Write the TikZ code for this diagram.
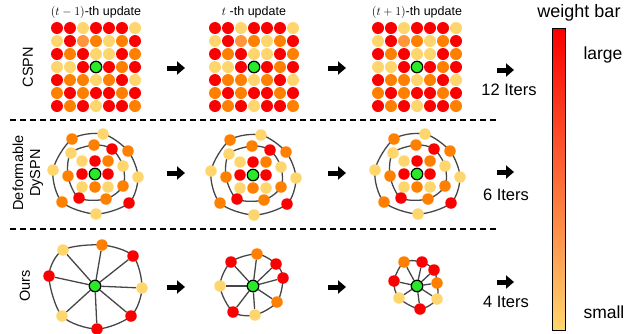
\documentclass[tikz,border=0pt]{standalone}
\usepackage{fontspec}
\setmainfont{Liberation Sans}
\usepackage{tikz}
\usetikzlibrary{arrows.meta,positioning,backgrounds}
\usepackage{xcolor}
\definecolor{wred}{RGB}{250,0,0}
\definecolor{worange}{RGB}{255,128,0}
\definecolor{wlight}{RGB}{255,150,60}
\definecolor{wyellow}{RGB}{255,214,110}
\definecolor{wgreen}{RGB}{40,235,40}
\definecolor{ringgray}{RGB}{70,70,70}
\tikzstyle{dot} = [circle, inner sep=0pt, minimum size=12pt]
\tikzstyle{ringdot} = [circle, inner sep=0pt, minimum size=11.5pt]
\tikzstyle{seed} = [circle, draw=black, line width=1.2pt, fill=wgreen, inner sep=0pt, minimum size=11.5pt]
\tikzstyle{ring} = [ringgray, line width=1.3pt]
\tikzstyle{bigarrow} = [line width=5pt, -{Triangle[length=8pt,width=13pt]}]
\tikzstyle{sep} = [line width=1.2pt, dash pattern=on 6pt off 4pt]

% 7x7 grid of weights around the seed pixel
\newcommand{\cspngrid}[3]{%
  \foreach \cl [count=\i from 0] in {wred,wred,wyellow,wred,wred,wred,wyellow,
      wyellow,wred,wlight,worange,wyellow,worange,wred,
      wred,worange,wred,wyellow,wyellow,wred,worange,
      wyellow,wyellow,wred,wgreen,wred,worange,wred,
      wred,worange,worange,wyellow,worange,wred,wyellow,
      worange,wred,worange,wred,wred,worange,wred,
      wred,worange,wred,wyellow,wred,wred,worange}{
    \pgfmathtruncatemacro{\cc}{mod(\i,7)}
    \pgfmathtruncatemacro{\rr}{div(\i,7)}
    \ifnum\i=24
      \node[seed] (#1-seed) at (#2,#3) {};
    \else
      \node[dot, fill=\cl] (#1-\rr-\cc) at ({#2+13*(\cc-3)},{#3+13*(\rr-3)}) {};
    \fi
  }
}

% deformable neighbourhood: inner square + two rings
\newcommand{\dyspn}[3]{%
  \foreach \dx/\dy/\cl [count=\k] in {-13/-13/wyellow,0/-13/wred,13/-13/worange,
      -13/0/wred,13/0/wred,-13/13/wyellow,0/13/worange,13/13/wyellow}
    \node[ringdot, fill=\cl] (#1-i\k) at ({#2+\dx},{#3+\dy}) {};
  \foreach \dx/\dy/\cl [count=\k] in {-1/-29/worange,17/-25/wred,28/-8/wyellow,
      28/12/worange,11/25/worange,-16/24/wred,-27/2/worange,-24/-21/wyellow}
    \node[ringdot, fill=\cl] (#1-m\k) at ({#2+\dx},{#3+\dy}) {};
  \foreach \dx/\dy/\cl [count=\k] in {-23/-35/worange,8/-40/wyellow,33/-23/worange,
      43/3/wyellow,34/29/wred,1/40/wyellow,-33/28/worange,-42/-4/wyellow}
    \node[ringdot, fill=\cl] (#1-o\k) at ({#2+\dx},{#3+\dy}) {};
  \node[seed] (#1-seed) at (#2,#3) {};
  \begin{scope}[on background layer]
    \draw[ring] plot[smooth cycle] coordinates {(#1-m1) (#1-m2) (#1-m3) (#1-m4)
      (#1-m5) (#1-m6) (#1-m7) (#1-m8)};
    \draw[ring] plot[smooth cycle] coordinates {(#1-o1) (#1-o2) (#1-o3) (#1-o4)
      (#1-o5) (#1-o6) (#1-o7) (#1-o8)};
  \end{scope}
}

% seed with 8 learned neighbours
\newcommand{\oursgraph}[4]{%
  \foreach \dx/\dy/\cl [count=\k] in {#4}
    \node[ringdot, fill=\cl] (#1-\k) at ({#2+\dx},{#3+\dy}) {};
  \node[seed] (#1-seed) at (#2,#3) {};
  \begin{scope}[on background layer]
    \foreach \k in {1,...,8}
      \draw[ring] (#1-seed) -- (#1-\k);
    \draw[ring] plot[smooth cycle] coordinates {(#1-1) (#1-2) (#1-3) (#1-4)
      (#1-5) (#1-6) (#1-7) (#1-8)};
  \end{scope}
}

\begin{document}
\begin{tikzpicture}[x=1pt, y=-1pt]
\useasboundingbox (0,0) rectangle (632,333);

% titles
\node[font=\fontsize{12.5}{14}\selectfont] (tprev) at (96,12) {$(t-1)$-th update};
\node[font=\fontsize{12.5}{14}\selectfont] (tcur) at (254,12) {$t$ -th update};
\node[font=\fontsize{12.5}{14}\selectfont] (tnext) at (417,12) {$(t+1)$-th update};

% row labels
\node[rotate=90, font=\fontsize{14.5}{17}\selectfont] (lcspn) at (28,67) {CSPN};
\node[rotate=90, align=center, font=\fontsize{14.5}{17}\selectfont] (ldys) at (28,173) {Deformable\\DySPN};
\node[rotate=90, font=\fontsize{14.5}{17}\selectfont] (lours) at (25,286) {Ours};

% CSPN
\cspngrid{ca}{96}{67}
\cspngrid{cb}{254}{67}
\cspngrid{cc}{417}{67}

% Deformable DySPN
\dyspn{da}{95}{174}
\dyspn{db}{253}{175}
\dyspn{dc}{417}{174}

% Ours
\oursgraph{oa}{95}{286}{-32/-36/wyellow,7/-41/worange,38/-30/wred,47/2/wyellow,
  36/30/wred,2/43/wred,-33/30/wyellow,-46/-10/wred}
\oursgraph{ob}{253}{286}{-22/-24/wred,4/-32/worange,23/-22/wred,30/-8/wred,
  24/16/worange,2/29/wyellow,-20/26/wred,-33/0/wyellow}
\oursgraph{oc}{417}{286}{-13/-24/worange,5/-24/wred,17/-16/wred,20/-3/worange,
  20/13/wyellow,3/23/wred,-18/12/wyellow,-23/-5/wred}

% separators
\draw[sep] (10,120) -- (496,120);
\draw[sep] (10,229) -- (496,229);

% update arrows
\foreach \yy/\r in {68/1,173/2,287/3} {
  \coordinate (a\r-s) at (167,\yy);
  \coordinate (a\r-e) at (185,\yy);
  \coordinate (b\r-s) at (328,\yy);
  \coordinate (b\r-e) at (346,\yy);
  \draw[bigarrow] (a\r-s) -- (a\r-e);
  \draw[bigarrow] (b\r-s) -- (b\r-e);
}

% iterations
\foreach \yy/\r in {70/1,172/2,282/3} {
  \coordinate (it\r-s) at (497,\yy);
  \coordinate (it\r-e) at (514,\yy);
  \draw[bigarrow] (it\r-s) -- (it\r-e);
}
\node[font=\fontsize{16.5}{19}\selectfont] (iter12) at (509,90) {12 Iters};
\node[font=\fontsize{16.5}{19}\selectfont] (iter6) at (506,195) {6 Iters};
\node[font=\fontsize{16.5}{19}\selectfont] (iter4) at (506,302) {4 Iters};

% weight bar
\shade[top color=wred, bottom color=wyellow] (552,28) rectangle (565,330);
\draw[line width=1pt] (552,28) rectangle (565,330);
\node[font=\fontsize{18}{20}\selectfont] (wbar) at (579,13) {weight bar};
\node[anchor=west, font=\fontsize{17.5}{20}\selectfont] (wlarge) at (580,55) {large};
\node[anchor=west, font=\fontsize{17.5}{20}\selectfont] (wsmall) at (580,312) {small};
\end{tikzpicture}
\end{document}
